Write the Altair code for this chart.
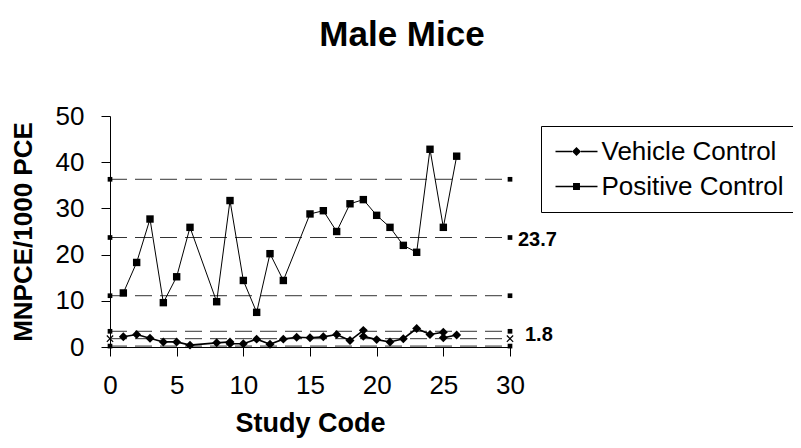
import altair as alt
import pandas as pd

TITLE = "Male Mice"
X_TITLE = "Study Code"
Y_TITLE = "MNPCE/1000 PCE"
SERIES = ["Vehicle Control", "Positive Control"]

vehicle_x = [1, 2, 3, 4, 5, 6, 8, 9, 9, 10, 11, 12, 13, 14, 15, 16, 17, 18, 19, 19, 20, 21, 22, 23, 24, 25, 25, 26]
vehicle_y = [2.2, 2.7, 1.9, 1.1, 1.1, 0.4, 0.9, 1.1, 0.7, 0.7, 1.7, 0.6, 1.7, 2.1, 2.0, 2.2, 2.7, 1.4, 3.6, 2.3, 1.6, 1.1, 1.8, 4.0, 2.7, 3.2, 2.0, 2.6]

positive_x = [1, 2, 3, 4, 5, 6, 8, 9, 10, 11, 12, 13, 15, 16, 17, 18, 19, 20, 21, 22, 23, 24, 25, 26]
positive_y = [11.7, 18.3, 27.7, 9.6, 15.2, 25.9, 9.8, 31.7, 14.4, 7.5, 20.2, 14.4, 28.8, 29.5, 25.0, 31.0, 31.9, 28.5, 25.9, 22.0, 20.5, 42.8, 25.9, 41.3]

positive_limits = [36.3, 23.7, 11.1]
vehicle_limits = [3.4, 1.8, 0.2]
limit_kinds = ["upper", "mean", "lower"]
limit_span = [0, 30]
mean_labels = {"Positive Control": "23.7", "Vehicle Control": "1.8"}

x_ticks = [0, 5, 10, 15, 20, 25, 30]
y_ticks = [0, 10, 20, 30, 40, 50]

FONT = "Liberation Sans"

# ---- tables ----
rows = []
i = 0
for xv, yv in zip(vehicle_x, vehicle_y):
    rows.append({"x": xv, "y": yv, "series": SERIES[0], "idx": i}); i += 1
for xv, yv in zip(positive_x, positive_y):
    rows.append({"x": xv, "y": yv, "series": SERIES[1], "idx": i}); i += 1
df = pd.DataFrame(rows)

lim_rows = []
for ser, vals in ((SERIES[1], positive_limits), (SERIES[0], vehicle_limits)):
    for kind, v in zip(limit_kinds, vals):
        lim_rows.append({"series": ser, "kind": kind, "value": v,
                         "x0": limit_span[0], "x1": limit_span[1]})
lim = pd.DataFrame(lim_rows)

end_rows = []
for r in lim_rows:
    for xv in limit_span:
        mk = "cross" if (r["series"] == SERIES[0] and r["kind"] == "mean") else "square"
        end_rows.append({"x": xv, "value": r["value"], "marker": mk})
ends = pd.DataFrame(end_rows)

lab = pd.DataFrame([{"series": s, "x": limit_span[1], "value": v,
                     "text": mean_labels[s]}
                    for s, v in ((SERIES[1], positive_limits[1]), (SERIES[0], vehicle_limits[1]))])

xscale = alt.Scale(domain=[0, 30], nice=False, zero=False)
yscale = alt.Scale(domain=[0, 50], nice=False)

x_enc = alt.X("x:Q", scale=xscale, axis=alt.Axis(
    title=X_TITLE, values=x_ticks, grid=False, tickSize=9, tickColor="black",
    domainColor="black", labelFontSize=26, labelFont=FONT, labelColor="black",
    labelPadding=16, titleFontSize=27, titleFont=FONT, titleFontWeight="bold",
    titleColor="black", titlePadding=12, labelFlush=False))
y_enc = alt.Y("y:Q", scale=yscale, axis=alt.Axis(
    title=Y_TITLE, values=y_ticks, grid=False, tickSize=9, tickColor="black",
    domainColor="black", labelFontSize=26, labelFont=FONT, labelColor="black",
    labelPadding=17, titleFontSize=26, titleFont=FONT, titleFontWeight="bold",
    titleColor="black", titlePadding=19, labelFlush=False))

rules = alt.Chart(lim).mark_rule(color="#333", strokeWidth=1, strokeDash=[17, 8]).encode(
    x=alt.X("x0:Q", scale=xscale), x2="x1:Q",
    y=alt.Y("value:Q", scale=yscale))

end_sq = alt.Chart(ends).transform_filter(alt.datum.marker == "square").mark_point(
    shape="square", filled=True, color="black", size=22, opacity=1).encode(
    x=alt.X("x:Q", scale=xscale), y=alt.Y("value:Q", scale=yscale))

end_x = alt.Chart(ends).transform_filter(alt.datum.marker == "cross").mark_point(
    shape="M-1,-1L1,1M-1,1L1,-1", filled=False, color="black", size=40,
    strokeWidth=1.2, opacity=1).encode(
    x=alt.X("x:Q", scale=xscale), y=alt.Y("value:Q", scale=yscale))

lab_pos = alt.Chart(lab).transform_filter(alt.datum.series == SERIES[1]).mark_text(
    align="left", baseline="middle", dx=8, dy=2, font=FONT, fontSize=20,
    fontWeight="bold", color="black").encode(
    x=alt.X("x:Q", scale=xscale), y=alt.Y("value:Q", scale=yscale), text="text:N")
lab_veh = alt.Chart(lab).transform_filter(alt.datum.series == SERIES[0]).mark_text(
    align="left", baseline="middle", dx=15, dy=-4, font=FONT, fontSize=20,
    fontWeight="bold", color="black").encode(
    x=alt.X("x:Q", scale=xscale), y=alt.Y("value:Q", scale=yscale), text="text:N")

lines = alt.Chart(df).mark_line(color="black").encode(
    x=x_enc, y=y_enc, detail="series:N", order="idx:Q",
    strokeWidth=alt.StrokeWidth("series:N", scale=alt.Scale(domain=SERIES, range=[1.6, 1.0]), legend=None))

points = alt.Chart(df).mark_point(filled=True, color="black", opacity=1).encode(
    x=alt.X("x:Q", scale=xscale), y=alt.Y("y:Q", scale=yscale),
    shape=alt.Shape("series:N", scale=alt.Scale(domain=SERIES, range=["diamond", "square"]), legend=None),
    size=alt.Size("series:N", scale=alt.Scale(domain=SERIES, range=[80, 55]), legend=None))

# legend glyphs: filled line pieces on both sides of the marker
legend_paths = [
    "M-2,-0.06H-0.43V0.06H-2ZM0.43,-0.06H2V0.06H0.43ZM0,-0.43L0.43,0L0,0.43L-0.43,0Z",
    "M-2,-0.06H-0.33V0.06H-2ZM0.33,-0.06H2V0.06H0.33ZM-0.33,-0.33H0.33V0.33H-0.33Z",
]
legend_layer = alt.Chart(df).mark_point(
    filled=True, color="black", opacity=0).encode(
    x=alt.X("x:Q", scale=xscale), y=alt.Y("y:Q", scale=yscale),
    shape=alt.Shape("series:N", scale=alt.Scale(domain=SERIES, range=legend_paths),
                    legend=alt.Legend(
                        title=None, orient="none", legendX=431, legendY=10,
                        strokeColor="black", fillColor="white", padding=12.5,
                        symbolSize=441, symbolOffset=10, labelOffset=12,
                        symbolFillColor="black", symbolStrokeColor="black",
                        symbolOpacity=1,
                        labelFont=FONT, labelFontSize=26, labelColor="black",
                        labelLimit=0, rowPadding=9)))

chart = alt.layer(rules, end_sq, end_x, lab_pos, lab_veh, lines, points, legend_layer).resolve_scale(
    shape="independent", size="independent"
).properties(
    width=400, height=231,
    title=alt.TitleParams(TITLE, font=FONT, fontSize=35, fontWeight="bold",
                          color="black", anchor="middle", dx=92, offset=50),
    autosize=alt.AutoSizeParams(type="none"),
    padding={"left": 102, "top": 108, "right": 283, "bottom": 93},
    background="white",
).configure_view(stroke=None)

chart.save("out.html", embed_options={"renderer": "svg", "actions": False})
